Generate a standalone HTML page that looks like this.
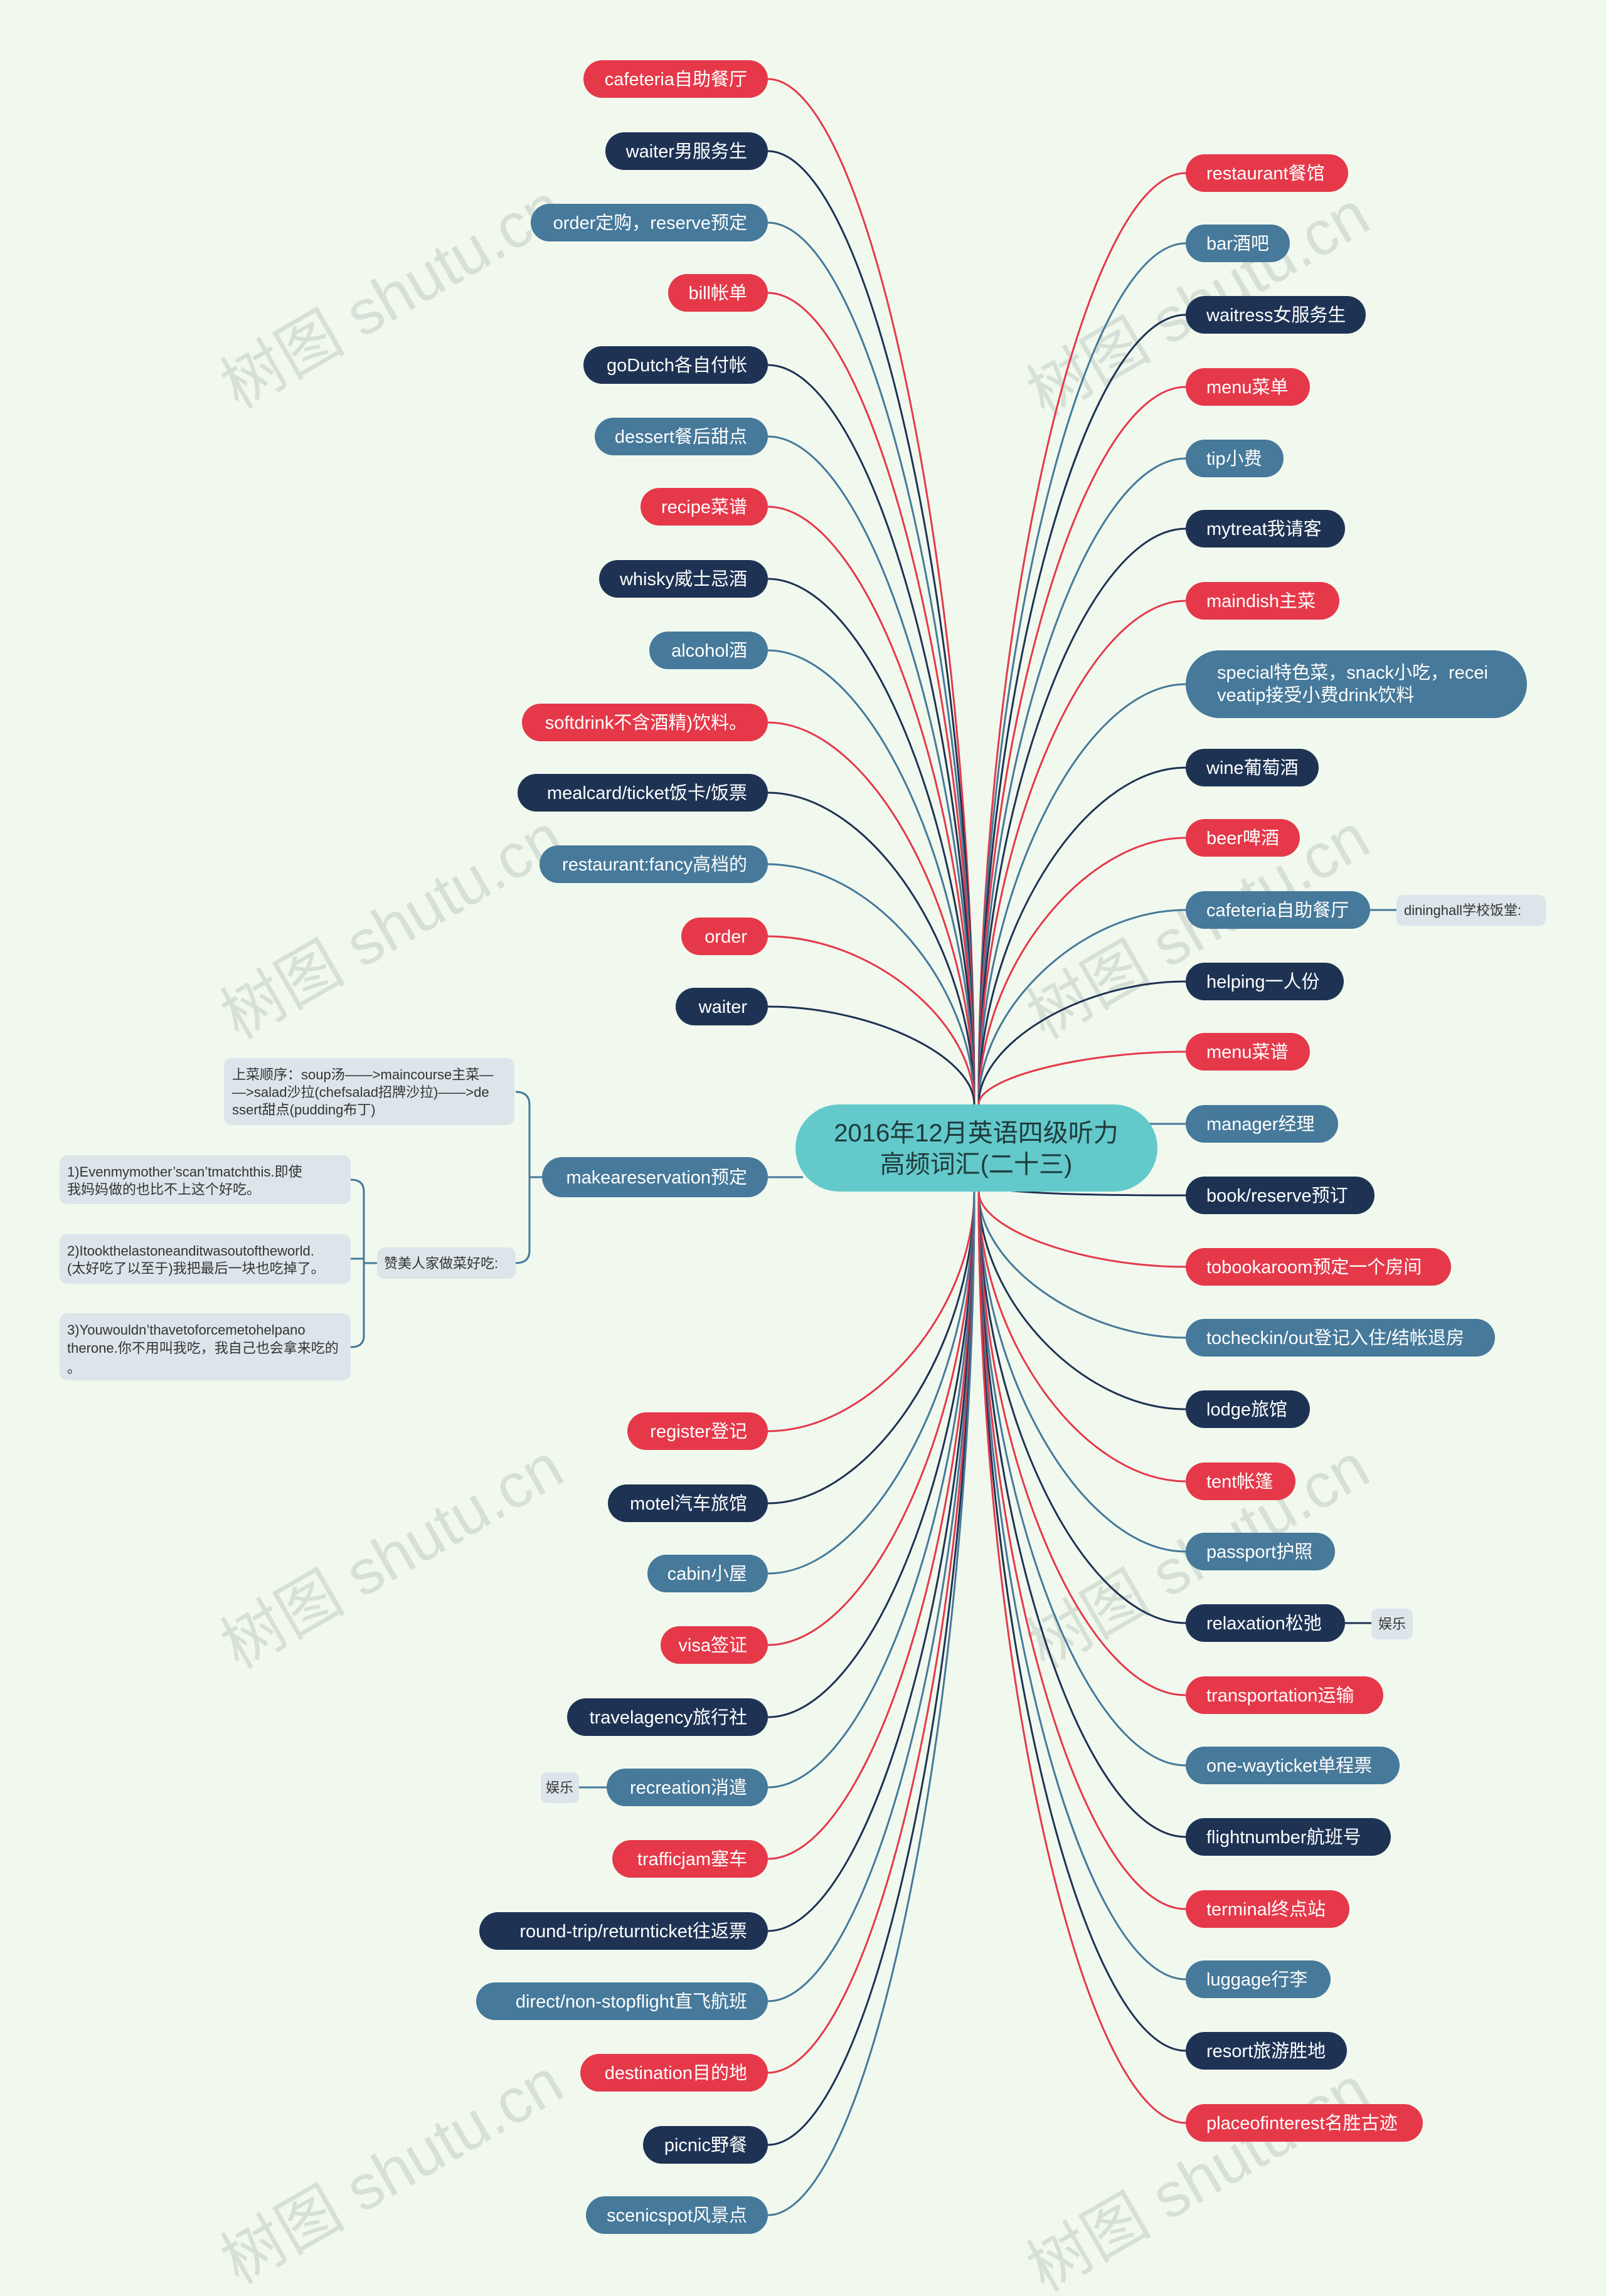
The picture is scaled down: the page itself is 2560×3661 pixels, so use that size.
<!DOCTYPE html>
<html><head><meta charset="utf-8"><style>
html,body{margin:0;padding:0;background:#f1f9ef;}
svg{display:block;}
text{font-family:"Liberation Sans","Noto Sans CJK SC",sans-serif;}
.n{font-size:29px;fill:#fff;}
.s{font-size:22px;fill:#333;}
</style></head><body>
<svg width="2560" height="3661" viewBox="0 0 2560 3661" xmlns="http://www.w3.org/2000/svg">
<rect width="2560" height="3661" fill="#f1f9ef"/>
<g font-size="100" fill="#9aa49a" opacity="0.3" text-anchor="middle" font-family="Liberation Serif,Noto Serif CJK SC,serif">
<text transform="translate(642,502) rotate(-30)">树图 shutu.cn</text>
<text transform="translate(642,1507) rotate(-30)">树图 shutu.cn</text>
<text transform="translate(642,2511) rotate(-30)">树图 shutu.cn</text>
<text transform="translate(642,3492) rotate(-30)">树图 shutu.cn</text>
<text transform="translate(1927,514) rotate(-30)">树图 shutu.cn</text>
<text transform="translate(1927,1507) rotate(-30)">树图 shutu.cn</text>
<text transform="translate(1927,2511) rotate(-30)">树图 shutu.cn</text>
<text transform="translate(1927,3504) rotate(-30)">树图 shutu.cn</text>
</g>
<g fill="none" stroke-width="3">
<path d="M1224 126 C1388 126,1553 943,1553 1761" stroke="#e5394a"/>
<path d="M1224 241 C1388 241,1553 1001,1553 1761" stroke="#1e3354"/>
<path d="M1224 355 C1388 355,1553 1058,1553 1761" stroke="#46799a"/>
<path d="M1224 467 C1388 467,1553 1114,1553 1761" stroke="#e5394a"/>
<path d="M1224 582 C1388 582,1553 1171,1553 1761" stroke="#1e3354"/>
<path d="M1224 696 C1388 696,1553 1228,1553 1761" stroke="#46799a"/>
<path d="M1224 808 C1388 808,1553 1284,1553 1761" stroke="#e5394a"/>
<path d="M1224 923 C1388 923,1553 1342,1553 1761" stroke="#1e3354"/>
<path d="M1224 1037 C1388 1037,1553 1399,1553 1761" stroke="#46799a"/>
<path d="M1224 1152 C1388 1152,1553 1456,1553 1761" stroke="#e5394a"/>
<path d="M1224 1264 C1388 1264,1553 1512,1553 1761" stroke="#1e3354"/>
<path d="M1224 1378 C1388 1378,1553 1569,1553 1761" stroke="#46799a"/>
<path d="M1224 1493 C1388 1493,1553 1627,1553 1761" stroke="#e5394a"/>
<path d="M1224 1605 C1388 1605,1553 1683,1553 1761" stroke="#1e3354"/>
<path d="M1224 1877 L1280 1877" stroke="#46799a"/>
<path d="M1224 2282 C1388 2282,1553 2091,1553 1900" stroke="#e5394a"/>
<path d="M1224 2397 C1388 2397,1553 2148,1553 1900" stroke="#1e3354"/>
<path d="M1224 2509 C1388 2509,1553 2204,1553 1900" stroke="#46799a"/>
<path d="M1224 2623 C1388 2623,1553 2261,1553 1900" stroke="#e5394a"/>
<path d="M1224 2738 C1388 2738,1553 2319,1553 1900" stroke="#1e3354"/>
<path d="M1224 2850 C1388 2850,1553 2375,1553 1900" stroke="#46799a"/>
<path d="M1224 2964 C1388 2964,1553 2432,1553 1900" stroke="#e5394a"/>
<path d="M1224 3079 C1388 3079,1553 2489,1553 1900" stroke="#1e3354"/>
<path d="M1224 3191 C1388 3191,1553 2545,1553 1900" stroke="#46799a"/>
<path d="M1224 3305 C1388 3305,1553 2602,1553 1900" stroke="#e5394a"/>
<path d="M1224 3420 C1388 3420,1553 2660,1553 1900" stroke="#1e3354"/>
<path d="M1224 3532 C1388 3532,1553 2716,1553 1900" stroke="#46799a"/>

<path d="M1890 276 C1725 276,1560 1018,1560 1761" stroke="#e5394a"/>
<path d="M1890 388 C1725 388,1560 1074,1560 1761" stroke="#46799a"/>
<path d="M1890 502 C1725 502,1560 1131,1560 1761" stroke="#1e3354"/>
<path d="M1890 617 C1725 617,1560 1189,1560 1761" stroke="#e5394a"/>
<path d="M1890 731 C1725 731,1560 1246,1560 1761" stroke="#46799a"/>
<path d="M1890 843 C1725 843,1560 1302,1560 1761" stroke="#1e3354"/>
<path d="M1890 958 C1725 958,1560 1359,1560 1761" stroke="#e5394a"/>
<path d="M1890 1091 C1725 1091,1560 1426,1560 1761" stroke="#46799a"/>
<path d="M1890 1224 C1725 1224,1560 1492,1560 1761" stroke="#1e3354"/>
<path d="M1890 1336 C1725 1336,1560 1548,1560 1761" stroke="#e5394a"/>
<path d="M1890 1451 C1725 1451,1560 1606,1560 1761" stroke="#46799a"/>
<path d="M1890 1565 C1725 1565,1560 1663,1560 1761" stroke="#1e3354"/>
<path d="M1890 1677 C1725 1677,1560 1719,1560 1761" stroke="#e5394a"/>
<path d="M1830 1792 L1890 1792" stroke="#46799a"/>
<path d="M1890 1906 C1725 1906,1600 1903,1560 1890" stroke="#1e3354"/>
<path d="M1890 2020 C1725 2020,1560 1960,1560 1900" stroke="#e5394a"/>
<path d="M1890 2133 C1725 2133,1560 2016,1560 1900" stroke="#46799a"/>
<path d="M1890 2247 C1725 2247,1560 2073,1560 1900" stroke="#1e3354"/>
<path d="M1890 2362 C1725 2362,1560 2131,1560 1900" stroke="#e5394a"/>
<path d="M1890 2474 C1725 2474,1560 2187,1560 1900" stroke="#46799a"/>
<path d="M1890 2588 C1725 2588,1560 2244,1560 1900" stroke="#1e3354"/>
<path d="M1890 2703 C1725 2703,1560 2301,1560 1900" stroke="#e5394a"/>
<path d="M1890 2815 C1725 2815,1560 2357,1560 1900" stroke="#46799a"/>
<path d="M1890 2929 C1725 2929,1560 2414,1560 1900" stroke="#1e3354"/>
<path d="M1890 3044 C1725 3044,1560 2472,1560 1900" stroke="#e5394a"/>
<path d="M1890 3156 C1725 3156,1560 2528,1560 1900" stroke="#46799a"/>
<path d="M1890 3270 C1725 3270,1560 2585,1560 1900" stroke="#1e3354"/>
<path d="M1890 3385 C1725 3385,1560 2642,1560 1900" stroke="#e5394a"/>

<path d="M2184 1451 L2226 1451" stroke="#46799a"/>
<path d="M2144 2588 L2186 2588" stroke="#1e3354"/>
<path d="M923 2850 L967 2850" stroke="#46799a"/>
<path d="M864 1877 L844 1877 M822 1741 Q844 1741 844 1762 L844 1994 Q844 2014 822 2014" stroke="#46799a"/>
<path d="M601 2014 L580 2014 M559 1881 Q580 1881 580 1900 L580 2130 Q580 2148 559 2148 M559 2007 L580 2007" stroke="#46799a"/>
</g>

<!-- center -->
<rect x="1268" y="1761" width="577" height="139" rx="70" fill="#63c9cb"/>
<text x="1556" y="1820" font-size="40" fill="#1f3a3a" text-anchor="middle">2016年12月英语四级听力</text>
<text x="1556" y="1870" font-size="40" fill="#1f3a3a" text-anchor="middle">高频词汇(二十三)</text>

<!-- left nodes -->
<g class="n" text-anchor="end">
<rect x="930" y="96" width="294" height="60" rx="30" fill="#e5394a"/><text x="1191" y="136">cafeteria自助餐厅</text>
<rect x="965" y="211" width="259" height="60" rx="30" fill="#1e3354"/><text x="1191" y="251">waiter男服务生</text>
<rect x="846" y="325" width="378" height="60" rx="30" fill="#46799a"/><text x="1191" y="365">order定购，reserve预定</text>
<rect x="1065" y="437" width="159" height="60" rx="30" fill="#e5394a"/><text x="1191" y="477">bill帐单</text>
<rect x="930" y="552" width="294" height="60" rx="30" fill="#1e3354"/><text x="1191" y="592">goDutch各自付帐</text>
<rect x="948" y="666" width="276" height="60" rx="30" fill="#46799a"/><text x="1191" y="706">dessert餐后甜点</text>
<rect x="1021" y="778" width="203" height="60" rx="30" fill="#e5394a"/><text x="1191" y="818">recipe菜谱</text>
<rect x="955" y="893" width="269" height="60" rx="30" fill="#1e3354"/><text x="1191" y="933">whisky威士忌酒</text>
<rect x="1035" y="1007" width="189" height="60" rx="30" fill="#46799a"/><text x="1191" y="1047">alcohol酒</text>
<rect x="832" y="1122" width="392" height="60" rx="30" fill="#e5394a"/><text x="1191" y="1162">softdrink不含酒精)饮料。</text>
<rect x="825" y="1234" width="399" height="60" rx="30" fill="#1e3354"/><text x="1191" y="1274">mealcard/ticket饭卡/饭票</text>
<rect x="860" y="1348" width="364" height="60" rx="30" fill="#46799a"/><text x="1191" y="1388">restaurant:fancy高档的</text>
<rect x="1086" y="1463" width="138" height="60" rx="30" fill="#e5394a"/><text x="1191" y="1503">order</text>
<rect x="1077" y="1575" width="147" height="60" rx="30" fill="#1e3354"/><text x="1191" y="1615">waiter</text>
<rect x="864" y="1845" width="360" height="64" rx="32" fill="#46799a"/><text x="1191" y="1887">makeareservation预定</text>
<rect x="1000" y="2252" width="224" height="60" rx="30" fill="#e5394a"/><text x="1191" y="2292">register登记</text>
<rect x="969" y="2367" width="255" height="60" rx="30" fill="#1e3354"/><text x="1191" y="2407">motel汽车旅馆</text>
<rect x="1032" y="2479" width="192" height="60" rx="30" fill="#46799a"/><text x="1191" y="2519">cabin小屋</text>
<rect x="1053" y="2593" width="171" height="60" rx="30" fill="#e5394a"/><text x="1191" y="2633">visa签证</text>
<rect x="904" y="2708" width="320" height="60" rx="30" fill="#1e3354"/><text x="1191" y="2748">travelagency旅行社</text>
<rect x="967" y="2820" width="257" height="60" rx="30" fill="#46799a"/><text x="1191" y="2860">recreation消遣</text>
<rect x="976" y="2934" width="248" height="60" rx="30" fill="#e5394a"/><text x="1191" y="2974">trafficjam塞车</text>
<rect x="764" y="3049" width="460" height="60" rx="30" fill="#1e3354"/><text x="1191" y="3089">round-trip/returnticket往返票</text>
<rect x="759" y="3161" width="465" height="60" rx="30" fill="#46799a"/><text x="1191" y="3201">direct/non-stopflight直飞航班</text>
<rect x="925" y="3275" width="299" height="60" rx="30" fill="#e5394a"/><text x="1191" y="3315">destination目的地</text>
<rect x="1025" y="3390" width="199" height="60" rx="30" fill="#1e3354"/><text x="1191" y="3430">picnic野餐</text>
<rect x="934" y="3502" width="290" height="60" rx="30" fill="#46799a"/><text x="1191" y="3542">scenicspot风景点</text>
</g>

<!-- right nodes -->
<g class="n">
<rect x="1890" y="246" width="259" height="60" rx="30" fill="#e5394a"/><text x="1923" y="286">restaurant餐馆</text>
<rect x="1890" y="358" width="166" height="60" rx="30" fill="#46799a"/><text x="1923" y="398">bar酒吧</text>
<rect x="1890" y="472" width="287" height="60" rx="30" fill="#1e3354"/><text x="1923" y="512">waitress女服务生</text>
<rect x="1890" y="587" width="198" height="60" rx="30" fill="#e5394a"/><text x="1923" y="627">menu菜单</text>
<rect x="1890" y="701" width="156" height="60" rx="30" fill="#46799a"/><text x="1923" y="741">tip小费</text>
<rect x="1890" y="813" width="254" height="60" rx="30" fill="#1e3354"/><text x="1923" y="853">mytreat我请客</text>
<rect x="1890" y="928" width="245" height="60" rx="30" fill="#e5394a"/><text x="1923" y="968">maindish主菜</text>
<rect x="1890" y="1037" width="544" height="108" rx="54" fill="#46799a"/><text x="1940" y="1082">special特色菜，snack小吃，recei</text><text x="1940" y="1118">veatip接受小费drink饮料</text>
<rect x="1890" y="1194" width="212" height="60" rx="30" fill="#1e3354"/><text x="1923" y="1234">wine葡萄酒</text>
<rect x="1890" y="1306" width="182" height="60" rx="30" fill="#e5394a"/><text x="1923" y="1346">beer啤酒</text>
<rect x="1890" y="1421" width="294" height="60" rx="30" fill="#46799a"/><text x="1923" y="1461">cafeteria自助餐厅</text>
<rect x="1890" y="1535" width="252" height="60" rx="30" fill="#1e3354"/><text x="1923" y="1575">helping一人份</text>
<rect x="1890" y="1647" width="198" height="60" rx="30" fill="#e5394a"/><text x="1923" y="1687">menu菜谱</text>
<rect x="1890" y="1762" width="243" height="60" rx="30" fill="#46799a"/><text x="1923" y="1802">manager经理</text>
<rect x="1890" y="1876" width="301" height="60" rx="30" fill="#1e3354"/><text x="1923" y="1916">book/reserve预订</text>
<rect x="1890" y="1990" width="423" height="60" rx="30" fill="#e5394a"/><text x="1923" y="2030">tobookaroom预定一个房间</text>
<rect x="1890" y="2103" width="493" height="60" rx="30" fill="#46799a"/><text x="1923" y="2143">tocheckin/out登记入住/结帐退房</text>
<rect x="1890" y="2217" width="198" height="60" rx="30" fill="#1e3354"/><text x="1923" y="2257">lodge旅馆</text>
<rect x="1890" y="2332" width="175" height="60" rx="30" fill="#e5394a"/><text x="1923" y="2372">tent帐篷</text>
<rect x="1890" y="2444" width="238" height="60" rx="30" fill="#46799a"/><text x="1923" y="2484">passport护照</text>
<rect x="1890" y="2558" width="254" height="60" rx="30" fill="#1e3354"/><text x="1923" y="2598">relaxation松弛</text>
<rect x="1890" y="2673" width="315" height="60" rx="30" fill="#e5394a"/><text x="1923" y="2713">transportation运输</text>
<rect x="1890" y="2785" width="341" height="60" rx="30" fill="#46799a"/><text x="1923" y="2825">one-wayticket单程票</text>
<rect x="1890" y="2899" width="327" height="60" rx="30" fill="#1e3354"/><text x="1923" y="2939">flightnumber航班号</text>
<rect x="1890" y="3014" width="261" height="60" rx="30" fill="#e5394a"/><text x="1923" y="3054">terminal终点站</text>
<rect x="1890" y="3126" width="231" height="60" rx="30" fill="#46799a"/><text x="1923" y="3166">luggage行李</text>
<rect x="1890" y="3240" width="257" height="60" rx="30" fill="#1e3354"/><text x="1923" y="3280">resort旅游胜地</text>
<rect x="1890" y="3355" width="378" height="60" rx="30" fill="#e5394a"/><text x="1923" y="3395">placeofinterest名胜古迹</text>
</g>

<!-- small boxes -->
<g class="s">
<rect x="2226" y="1427" width="238" height="49" rx="10" fill="#dce5ea"/><text x="2238" y="1459">dininghall学校饭堂:</text>
<rect x="2186" y="2565" width="66" height="49" rx="10" fill="#dce5ea"/><text x="2197" y="2597">娱乐</text>
<rect x="862" y="2826" width="61" height="49" rx="10" fill="#dce5ea"/><text x="870" y="2858">娱乐</text>
<rect x="357" y="1687" width="463" height="107" rx="12" fill="#dce5ea"/>
<text x="370" y="1721">上菜顺序：soup汤——&gt;maincourse主菜—</text>
<text x="370" y="1749">—&gt;salad沙拉(chefsalad招牌沙拉)——&gt;de</text>
<text x="370" y="1777">ssert甜点(pudding布丁)</text>
<rect x="601" y="1989" width="221" height="50" rx="12" fill="#dce5ea"/><text x="612" y="2022">赞美人家做菜好吃:</text>
<rect x="95" y="1842" width="464" height="78" rx="12" fill="#dce5ea"/>
<text x="107" y="1876">1)Evenmymother’scan’tmatchthis.即使</text>
<text x="107" y="1904">我妈妈做的也比不上这个好吃。</text>
<rect x="95" y="1968" width="464" height="79" rx="12" fill="#dce5ea"/>
<text x="107" y="2002">2)Itookthelastoneanditwasoutoftheworld.</text>
<text x="107" y="2030">(太好吃了以至于)我把最后一块也吃掉了。</text>
<rect x="95" y="2094" width="464" height="107" rx="12" fill="#dce5ea"/>
<text x="107" y="2128">3)Youwouldn’thavetoforcemetohelpano</text>
<text x="107" y="2157">therone.你不用叫我吃，我自己也会拿来吃的</text>
<text x="107" y="2189">。</text>
</g>
</svg>
</body></html>
